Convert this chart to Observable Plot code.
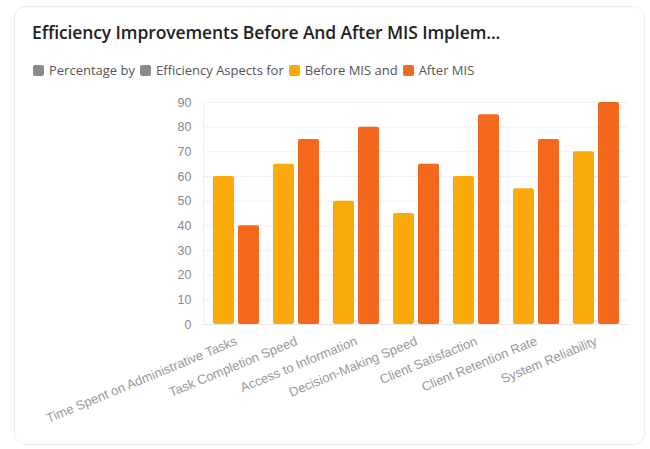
<!DOCTYPE html>
<html>
<head>
<meta charset="utf-8">
<script src="https://cdn.jsdelivr.net/npm/d3@7"></script>
<script src="https://cdn.jsdelivr.net/npm/@observablehq/plot@0.6"></script>
<style>
  body { margin:0; width:650px; height:449px; background:#fff; font-family:"Open Sans", sans-serif; position:relative; overflow:hidden; }
  #card { position:absolute; left:14px; top:6px; width:631px; height:439px; border:1px solid #ececec; border-radius:12px; box-sizing:border-box; }
  #title { position:absolute; left:32px; top:20px; font-size:17.5px; font-weight:600; color:#222; white-space:nowrap; letter-spacing:-0.1px; }
  #legend { position:absolute; left:33px; top:61px; font-size:13px; color:#555; white-space:nowrap; display:flex; align-items:center; }
  .sw { display:inline-block; width:11px; height:11px; border-radius:2px; margin-right:5px; }
  .lbl { margin-right:5px; }
  #chart { position:absolute; left:0; top:85px; }
</style>
</head>
<body>
<div id="card"></div>
<div id="title">Efficiency Improvements Before And After MIS Implem...</div>
<div id="legend"></div>
<div id="chart"></div>
<script>
const categories = ["Time Spent on Administrative Tasks","Task Completion Speed","Access to Information","Decision-Making Speed","Client Satisfaction","Client Retention Rate","System Reliability"];
const seriesNames = ["Before MIS","After MIS"];
const beforeValues = [60,65,50,45,60,55,70];
const afterValues = [40,75,80,65,85,75,90];
const seriesColors = ["#FBAA0B","#F2691E"];
const yTicks = [0,10,20,30,40,50,60,70,80,90];

const legendItems = [
  {text:"Percentage by", color:"#8a8a8a"},
  {text:"Efficiency Aspects for", color:"#8a8a8a"},
  {text:"Before MIS and", color:seriesColors[0]},
  {text:"After MIS", color:seriesColors[1]}
];
const lg = document.getElementById("legend");
legendItems.forEach(it => {
  const s = document.createElement("span"); s.className="sw"; s.style.background=it.color; lg.appendChild(s);
  const t = document.createElement("span"); t.className="lbl"; t.textContent=it.text; lg.appendChild(t);
});

const beforeData = categories.map((c,i) => ({cat:c, series:seriesNames[0], value:beforeValues[i]}));
const afterData = categories.map((c,i) => ({cat:c, series:seriesNames[1], value:afterValues[i]}));

const chart = Plot.plot({
  width:650, height:364,
  marginTop:17, marginBottom:125, marginLeft:203, marginRight:22,
  style:{fontFamily:"'Liberation Sans', Arial, sans-serif", fontSize:"12px", color:"#888"},
  x:{domain:categories, padding:0, label:null},
  y:{domain:[0,90], label:null},
  color:{domain:seriesNames, range:seriesColors},
  marks:[
    Plot.gridY(yTicks, {stroke:"#f0f0f0", strokeOpacity:1}),
    Plot.axisY(yTicks, {tickSize:0, tickPadding:12, fill:"#888", fontSize:12.5, label:null}),
    Plot.axisX({tickRotate:-22.5, tickSize:0, tickPadding:16, fill:"#999", fontSize:13, label:null}),
    Plot.barY(beforeData, {x:"cat", y:"value", fill:"series", insetLeft:7, insetRight:32, rx:2}),
    Plot.barY(afterData, {x:"cat", y:"value", fill:"series", insetLeft:32, insetRight:7, rx:2}),
    Plot.ruleY([0], {stroke:"#e6e6e6"}),
    Plot.frame({anchor:"left", stroke:"#efefef"})
  ]
});
document.getElementById("chart").appendChild(chart);
</script>
</body>
</html>
